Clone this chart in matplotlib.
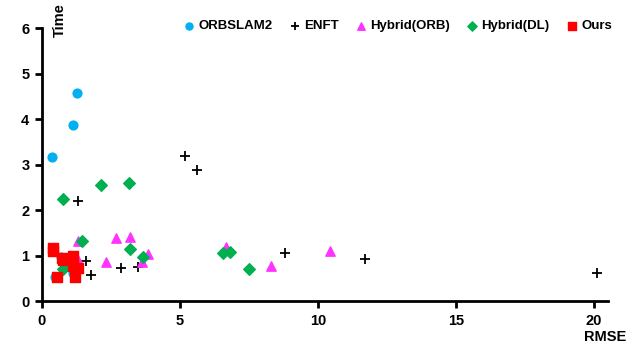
import matplotlib
matplotlib.use("Agg")
import matplotlib.pyplot as plt

plt.rcParams['font.family'] = ['Liberation Sans', 'DejaVu Sans']
plt.rcParams['font.weight'] = 'bold'

# RMSE / Time per method
orbslam2_x = [0.36, 1.12, 1.27, 0.68, 0.81, 0.47, 1.13, 1.20]
orbslam2_y = [3.16, 3.87, 4.57, 0.97, 0.84, 0.53, 0.61, 0.85]

enft_x = [5.18, 5.62, 1.32, 1.59, 1.78, 2.85, 3.49, 8.79, 11.70, 20.12]
enft_y = [3.19, 2.88, 2.20, 0.88, 0.57, 0.72, 0.75, 1.05, 0.92, 0.62]

hyb_orb_x = [1.32, 1.32, 2.31, 2.68, 3.19, 3.85, 3.63, 6.67, 8.29, 10.43]
hyb_orb_y = [1.32, 0.90, 0.86, 1.38, 1.40, 1.03, 0.85, 1.18, 0.77, 1.11]

hyb_dl_x = [0.75, 2.14, 3.15, 1.44, 0.77, 3.19, 3.65, 6.55, 6.81, 7.49]
hyb_dl_y = [2.24, 2.55, 2.59, 1.32, 0.70, 1.14, 0.97, 1.05, 1.07, 0.70]

ours_x = [0.39, 0.39, 0.71, 0.77, 1.14, 1.14, 1.32, 0.55, 1.21]
ours_y = [1.16, 1.10, 0.94, 0.90, 0.99, 0.77, 0.72, 0.52, 0.52]

fig = plt.figure(figsize=(6.41, 3.46), dpi=100)
ax = fig.add_axes([0.0655, 0.130, 0.883, 0.789])

ax.scatter(orbslam2_x, orbslam2_y, s=40, marker='o', color='#00B0F0', label='ORBSLAM2', zorder=3)
ax.scatter(enft_x, enft_y, s=55, marker='+', color='black', linewidths=1.3, label='ENFT', zorder=3)
ax.scatter(hyb_orb_x, hyb_orb_y, s=45, marker='^', color='#FF33FF', label='Hybrid(ORB)', zorder=3)
ax.scatter(hyb_dl_x, hyb_dl_y, s=35, marker='D', color='#00B050', label='Hybrid(DL)', zorder=3)
ax.scatter(ours_x, ours_y, s=50, marker='s', color='#FF0000', label='Ours', zorder=4)

ax.set_xlim(0, 20.5)
ax.set_ylim(0, 6)
ax.set_xticks([0, 5, 10, 15, 20])
ax.set_yticks([0, 1, 2, 3, 4, 5, 6])
for s in ['top', 'right']:
    ax.spines[s].set_visible(False)
for s in ['left', 'bottom']:
    ax.spines[s].set_linewidth(2)
ax.tick_params(direction='out', length=5, width=2, labelsize=10.5, pad=4)

fig.text(0.094, 0.99, 'Time', rotation=90, ha='center', va='top', fontsize=10.5, fontweight='bold')
fig.text(0.944, 0.005, 'RMSE', ha='center', va='bottom', fontsize=10.5, fontweight='bold')

ax.legend(loc='center left', bbox_to_anchor=(0.25, 1.007), ncol=5, frameon=False,
          fontsize=9.5, handletextpad=0.3, columnspacing=1.3, borderaxespad=0,
          borderpad=0, handlelength=0.8, scatterpoints=1, markerscale=0.8)

fig.savefig('out.png', dpi=100)
